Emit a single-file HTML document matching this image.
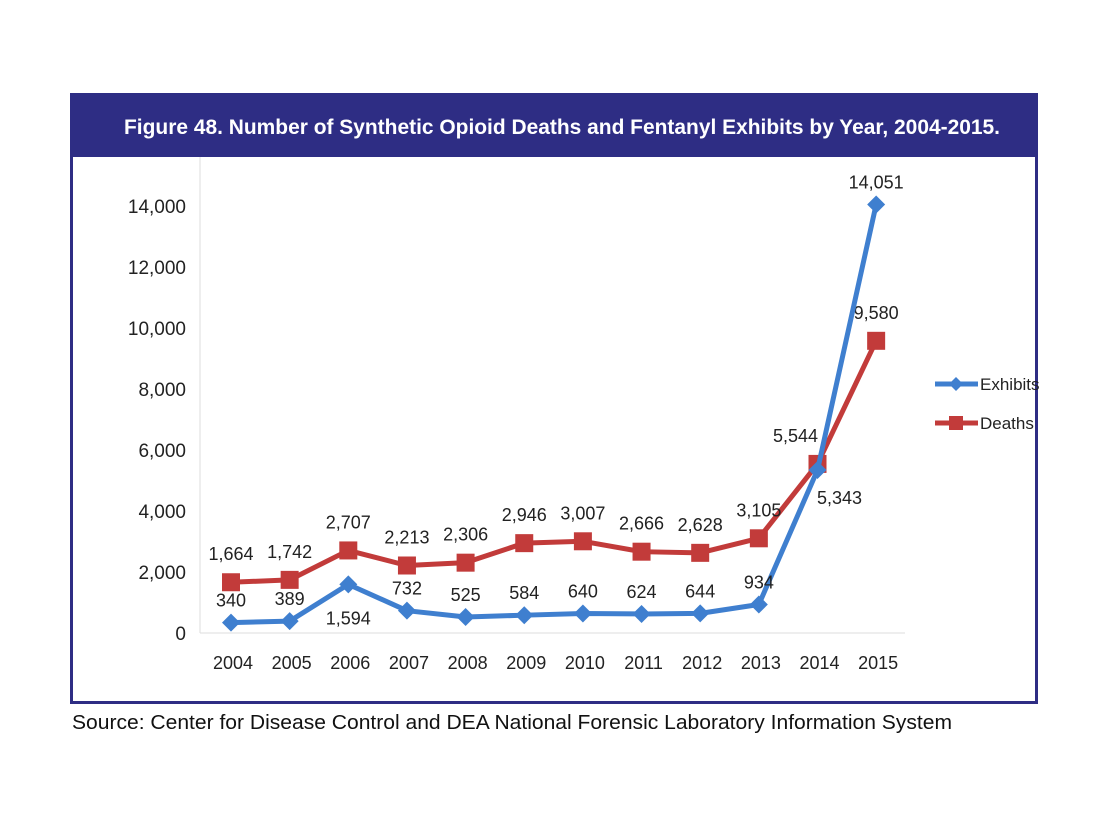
<!DOCTYPE html>
<html><head><meta charset="utf-8"><style>
body{margin:0;background:#fff;}
svg{display:block;font-family:"Liberation Sans",sans-serif;}
</style></head><body>
<svg id="c" width="1120" height="840">
<rect x="71.5" y="94.5" width="965" height="608" fill="#fff" stroke="#2e2d84" stroke-width="3"/>
<rect x="70" y="93" width="968" height="64" fill="#2e2d84"/>
<text x="562" y="134" fill="#fff" font-size="21" font-weight="bold" text-anchor="middle" textLength="876" lengthAdjust="spacingAndGlyphs">Figure 48. Number of Synthetic Opioid Deaths and Fentanyl Exhibits by Year, 2004-2015.</text>
<line x1="200" y1="157" x2="200" y2="633" stroke="#ddd"/>
<line x1="200" y1="633" x2="905" y2="633" stroke="#ddd"/>
<g id="g"></g>
<text x="72" y="729" font-size="20" fill="#111" textLength="880" lengthAdjust="spacingAndGlyphs">Source: Center for Disease Control and DEA National Forensic Laboratory Information System</text>
</svg>
<script>
const years=["2004","2005","2006","2007","2008","2009","2010","2011","2012","2013","2014","2015"];
const exhibits=[340,389,1594,732,525,584,640,624,644,934,5343,14051];
const deaths=[1664,1742,2707,2213,2306,2946,3007,2666,2628,3105,5544,9580];
const yTicks=[0,2000,4000,6000,8000,10000,12000,14000];
const NS="http://www.w3.org/2000/svg";
const g=document.getElementById('g');
const X=i=>231+i*58.65;
const Y=v=>633-v*427/14000;
function el(t,a){const e=document.createElementNS(NS,t);for(const k in a)e.setAttribute(k,a[k]);g.appendChild(e);return e;}
const fmt=v=>v.toLocaleString('en-US');
yTicks.forEach(v=>{const t=el('text',{x:186,y:Y(v)+7,'font-size':19,'text-anchor':'end',fill:'#222'});t.textContent=fmt(v);

});
years.forEach((y,i)=>{const t=el('text',{x:X(i)+2,y:669,'font-size':18,'text-anchor':'middle',fill:'#222'});t.textContent=y;

});
function series(vals,color,name,marker,labelOff){
 const p=el('polyline',{points:vals.map((v,i)=>X(i)+','+Y(v)).join(' '),fill:'none',stroke:color,'stroke-width':5,'stroke-linejoin':'round'});
 
 
 vals.forEach((v,i)=>{let m;const x=X(i),y=Y(v);
  if(marker==='d')m=el('polygon',{points:`${x},${y-9} ${x+9},${y} ${x},${y+9} ${x-9},${y}`,fill:color});
  else m=el('rect',{x:x-9,y:y-9,width:18,height:18,fill:color});
  
  
  const o=labelOff(i);
  const t=el('text',{x:x+o[0],y:y+o[1],'font-size':18,'text-anchor':'middle',fill:'#222'});t.textContent=fmt(v);
  
  
 });
}
series(deaths,'#c23b3a','deaths','s',i=>i===10?[-22,-22]:[0,-22]);
series(exhibits,'#3f7fcf','exhibits','d',i=>i===2?[0,40]:i===10?[22,34]:[0,-16]);
[['Exhibits','#3f7fcf','d',384],['Deaths','#c23b3a','s',423]].forEach(([n,c,m,y])=>{
 const l=el('line',{x1:935,y1:y,x2:978,y2:y,stroke:c,'stroke-width':5});
 
 
 const mk=m==='d'?el('polygon',{points:`956,${y-7} 963,${y} 956,${y+7} 949,${y}`,fill:c}):el('rect',{x:949,y:y-7,width:14,height:14,fill:c});
 
 
 const t=el('text',{x:980,y:y+6,'font-size':17,fill:'#222'});t.textContent=n;
 
 
});
</script>
</body></html>
